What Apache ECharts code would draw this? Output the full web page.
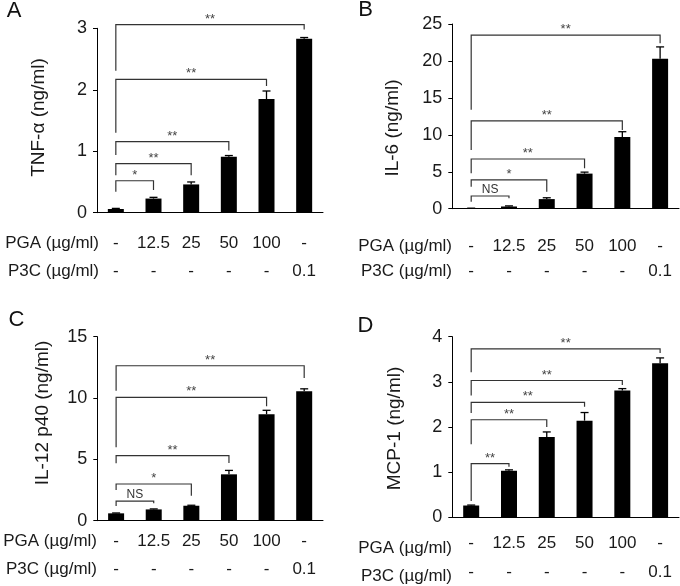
<!DOCTYPE html>
<html><head><meta charset="utf-8">
<script src="https://cdn.jsdelivr.net/npm/echarts@6/dist/echarts.min.js"></script>
<style>html,body{margin:0;padding:0;background:#fff}#c{width:680px;height:586px}</style>
</head><body><div id="c"></div>
<script>
// ---- data ----
const pgaLabels = ['-', '12.5', '25', '50', '100', '-'];
const p3cLabels = ['-', '-', '-', '-', '-', '0.1'];
const categories = pgaLabels.map((p, i) => p + ' / ' + p3cLabels[i]);

const tnfValues = [0.06, 0.23, 0.46, 0.91, 1.85, 2.83];
const tnfErrors = [0.01, 0.02, 0.04, 0.02, 0.13, 0.02];
const il6Values = [0.05, 0.3, 1.3, 4.75, 9.7, 20.3];
const il6Errors = [0.02, 0.08, 0.18, 0.2, 0.72, 1.6];
const il12Values = [0.6, 0.92, 1.22, 3.78, 8.68, 10.55];
const il12Errors = [0.03, 0.04, 0.04, 0.32, 0.32, 0.2];
const mcpValues = [0.26, 1.03, 1.78, 2.14, 2.81, 3.41];
const mcpErrors = [0.01, 0.02, 0.11, 0.18, 0.04, 0.12];

// significance brackets: [target category, bracket height, left leg end, right leg end, label]
const tnfBrackets = [
  [1, 0.52, 0.34, 0.37, '*'],
  [2, 0.80, 0.61, 0.61, '**'],
  [3, 1.155, 0.94, 1.01, '**'],
  [4, 2.17, 1.30, 2.06, '**'],
  [5, 3.06, 2.31, 2.98, '**']
];
const il6Brackets = [
  [1, 1.72, 0.95, 1.41, 'NS'],
  [2, 3.89, 2.98, 2.3, '*'],
  [3, 6.73, 4.8, 5.47, '**'],
  [4, 11.9, 7.95, 10.66, '**'],
  [5, 23.5, 13.4, 22.4, '**']
];
const il12Brackets = [
  [1, 1.6, 1.2, 1.42, 'NS'],
  [2, 2.99, 2.5, 2.04, '*'],
  [3, 5.3, 4.68, 4.7, '**'],
  [4, 10.06, 5.98, 9.32, '**'],
  [5, 12.63, 10.6, 11.63, '**']
];
const mcpBrackets = [
  [1, 1.19, 0.36, 1.12, '**'],
  [2, 2.16, 1.62, 2.0, '**'],
  [3, 2.545, 2.31, 2.45, '**'],
  [4, 3.03, 2.7, 2.93, '**'],
  [5, 3.73, 3.21, 3.64, '**']
];

const rowTitles = ['PGA (µg/ml)', 'P3C (µg/ml)'];

// ---- layout ----
const FONT = "'Liberation Sans', Arial, sans-serif";
const panels = [
  {letter: 'A', name: 'TNF-α (ng/ml)', values: tnfValues, errors: tnfErrors, brackets: tnfBrackets,
   max: 3, interval: 1, grid: {left: 97, right: 357, top: 28.3, bottom: 373.3},
   labelMargin: 16.4, lineHeight: 28.4, letterPos: [14, 10.5], namePos: [38.5, 117.5], rowX: 99, axisY: 212.7},
  {letter: 'B', name: 'IL-6 (ng/ml)', values: il6Values, errors: il6Errors, brackets: il6Brackets,
   max: 25, interval: 5, grid: {left: 452.3, right: 1, top: 24, bottom: 377.3},
   labelMargin: 25.5, lineHeight: 25, letterPos: [365.5, 10], namePos: [393, 128], rowX: 452, axisY: 208.7},
  {letter: 'C', name: 'IL-12 p40 (ng/ml)', values: il12Values, errors: il12Errors, brackets: il12Brackets,
   max: 15, interval: 5, grid: {left: 97.3, right: 357, top: 336.7, bottom: 65.3},
   labelMargin: 6.4, lineHeight: 28.4, letterPos: [16.5, 319.5], namePos: [43, 413], rowX: 97, axisY: 520.7},
  {letter: 'D', name: 'MCP-1 (ng/ml)', values: mcpValues, errors: mcpErrors, brackets: mcpBrackets,
   max: 4, interval: 1, grid: {left: 452.3, right: 1, top: 336.7, bottom: 64.3},
   labelMargin: 12.15, lineHeight: 28.3, letterPos: [365.5, 325.5], namePos: [395, 428.5], rowX: 452, axisY: 521.7}
];

const grids = [], xAxes = [], yAxes = [], series = [], graphics = [];
panels.forEach((p, i) => {
  grids.push(Object.assign({containLabel: false}, p.grid));
  xAxes.push({
    type: 'category', gridIndex: i, data: categories, boundaryGap: true,
    axisLine: {lineStyle: {color: '#000', width: 1}},
    axisTick: {inside: true, length: 4, lineStyle: {color: '#000'}},
    axisLabel: {
      formatter: (v, idx) => pgaLabels[idx] + '\n' + p3cLabels[idx],
      fontFamily: FONT, fontSize: 17, color: '#1a1a1a', margin: p.labelMargin, lineHeight: p.lineHeight,
      interval: 0
    },
    splitLine: {show: false}
  });
  yAxes.push({
    type: 'value', gridIndex: i, min: 0, max: p.max, interval: p.interval,
    axisLine: {show: true, lineStyle: {color: '#000', width: 1}},
    axisTick: {show: true, inside: false, length: 4, lineStyle: {color: '#000'}},
    axisLabel: {fontFamily: FONT, fontSize: 18, color: '#1a1a1a', margin: 10},
    splitLine: {show: false}
  });
  series.push({
    type: 'bar', xAxisIndex: i, yAxisIndex: i, data: p.values, barWidth: 16,
    itemStyle: {color: '#000'}, silent: true
  });
  series.push({
    type: 'custom', xAxisIndex: i, yAxisIndex: i, clip: false, silent: true,
    data: p.values.map((v, j) => [j, v, v + p.errors[j]]),
    encode: {x: 0, y: [1, 2]},
    renderItem: (params, api) => {
      const x = api.value(0);
      const a = api.coord([x, api.value(1)]);
      const b = api.coord([x, api.value(2)]);
      const hw = 4;
      return {type: 'group', children: [
        {type: 'line', shape: {x1: a[0], y1: a[1], x2: b[0], y2: b[1]}, style: {stroke: '#000', lineWidth: 1.3}},
        {type: 'line', shape: {x1: b[0] - hw, y1: b[1], x2: b[0] + hw, y2: b[1]}, style: {stroke: '#000', lineWidth: 1.3}}
      ]};
    }
  });
  const br = p.brackets;
  series.push({
    type: 'custom', xAxisIndex: i, yAxisIndex: i, clip: false, silent: true,
    data: br.map(b => [b[0], b[1], b[2], b[3]]),
    encode: {x: 0, y: 1},
    renderItem: (params, api) => {
      const b = br[params.dataIndex];
      const L = api.coord([0, b[1]]), R = api.coord([b[0], b[1]]);
      const Lb = api.coord([0, b[2]]), Rb = api.coord([b[0], b[3]]);
      const isNS = b[4] === 'NS';
      return {type: 'group', children: [
        {type: 'polyline', shape: {points: [Lb, L, R, Rb]}, style: {stroke: '#333', lineWidth: 1.2, fill: null}},
        {type: 'text', x: (L[0] + R[0]) / 2, y: L[1] - (isNS ? 0 : -1),
         style: {text: b[4], align: 'center', verticalAlign: 'bottom', fontFamily: FONT,
                 fontSize: isNS ? 12 : 13, fill: isNS ? '#333' : '#444'}}
      ]};
    }
  });
  // panel letter
  graphics.push({type: 'text', x: p.letterPos[0], y: p.letterPos[1],
    style: {text: p.letter, align: 'center', verticalAlign: 'middle', fontFamily: FONT, fontSize: 22, fill: '#111'}});
  // y axis title
  graphics.push({type: 'text', x: p.namePos[0], y: p.namePos[1], rotation: Math.PI / 2,
    style: {text: p.name, align: 'center', verticalAlign: 'middle', fontFamily: FONT, fontSize: 19, fill: '#1a1a1a'}});
  // row titles
  rowTitles.forEach((t, r) => {
    graphics.push({type: 'text', x: p.rowX, y: p.axisY + p.labelMargin + p.lineHeight * (r + 0.5),
      style: {text: t, align: 'right', verticalAlign: 'middle', fontFamily: FONT, fontSize: 17, fill: '#1a1a1a'}});
  });
});

const chart = echarts.init(document.getElementById('c'), null, {renderer: 'canvas'});
chart.setOption({
  animation: false,
  backgroundColor: '#fff',
  grid: grids, xAxis: xAxes, yAxis: yAxes, series: series,
  graphic: graphics
});
</script></body></html>
